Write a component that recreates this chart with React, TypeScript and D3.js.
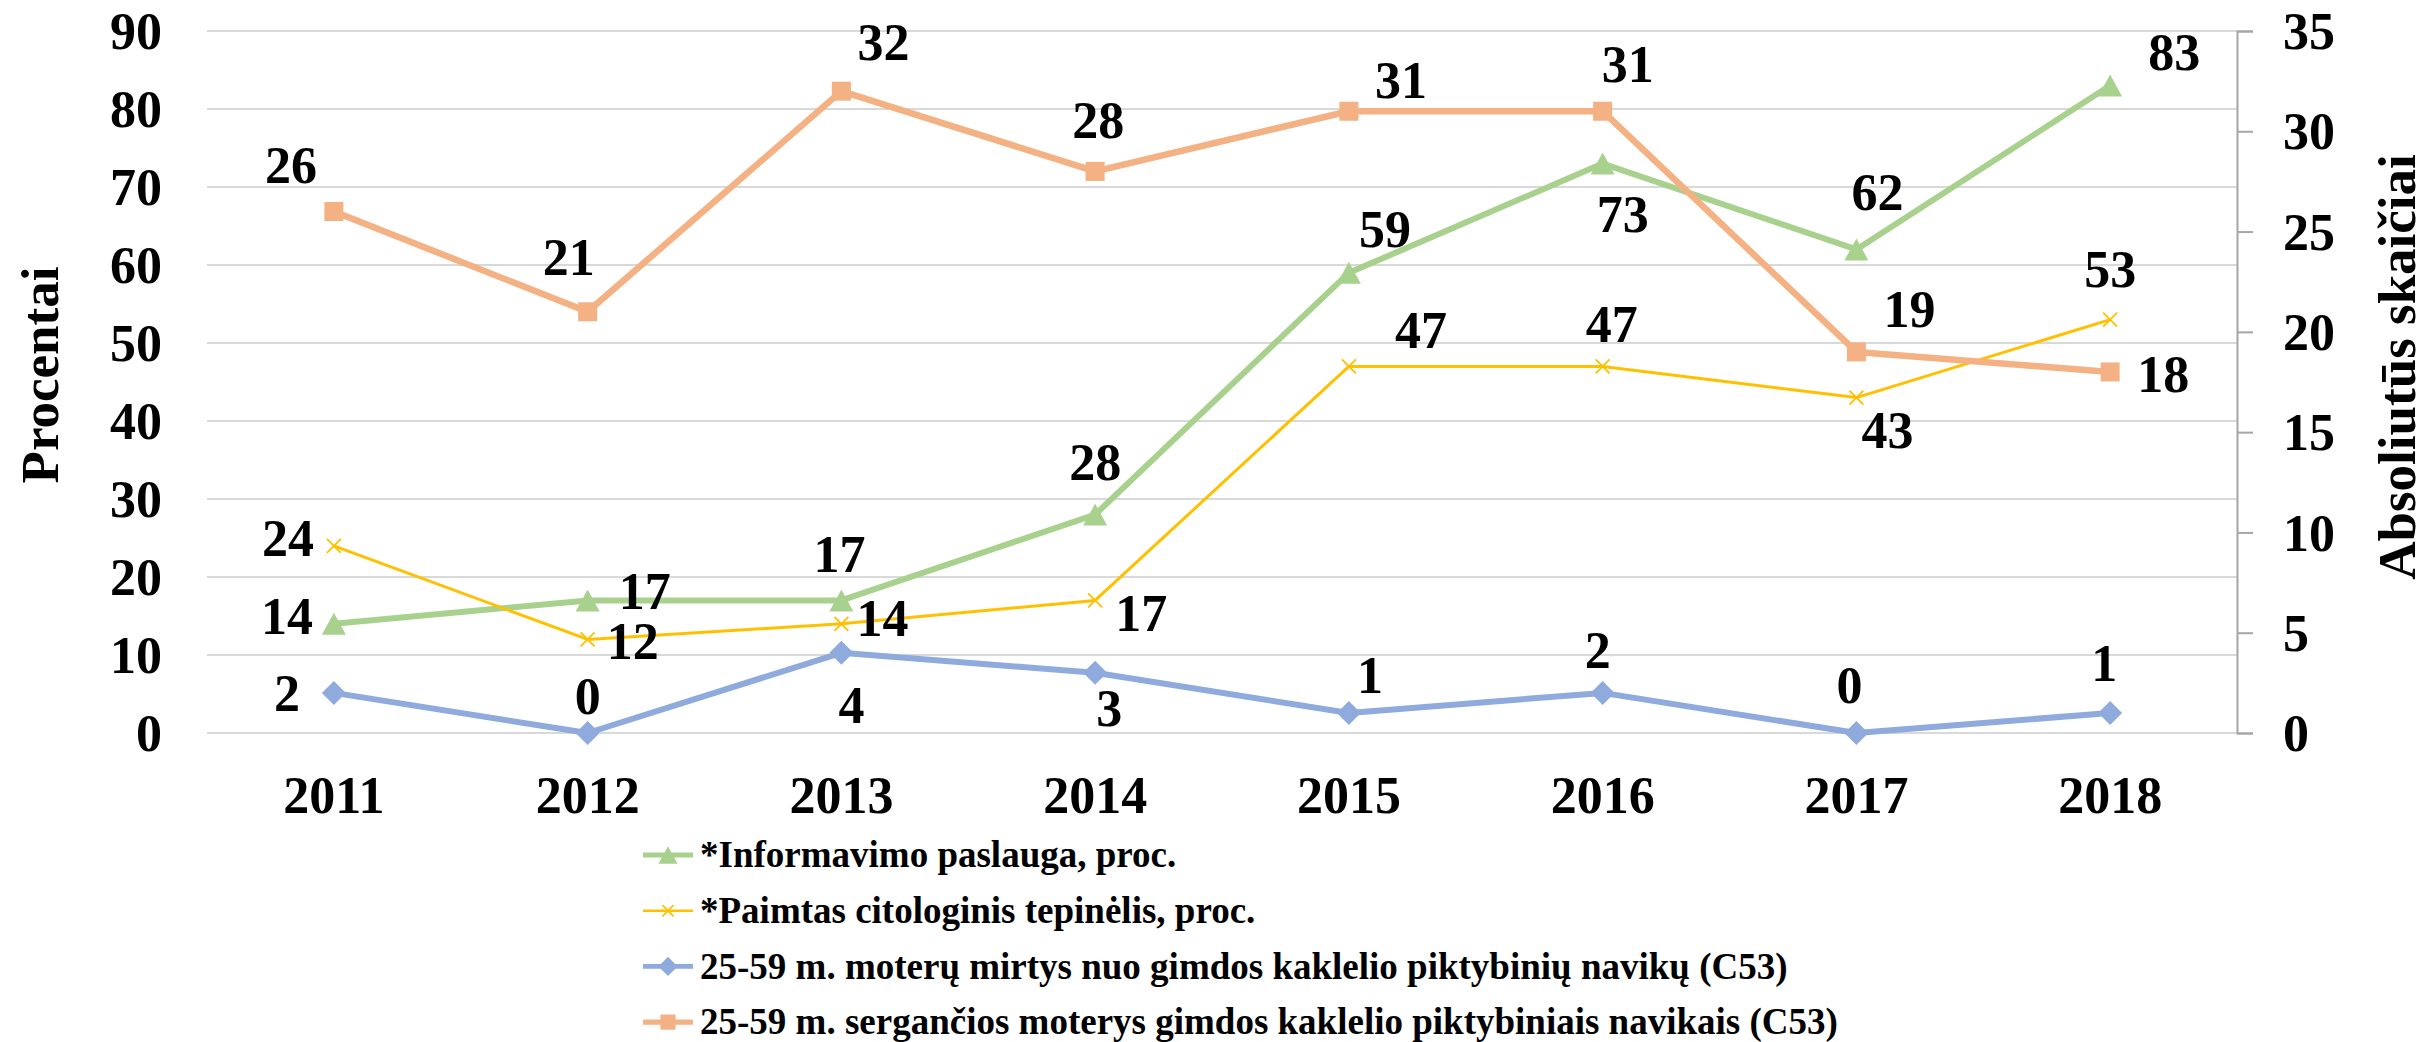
import { useEffect, useRef } from "react";
import * as d3 from "d3";

const WIDTH = 2435;
const HEIGHT = 1042;
const PLOT = { left: 207, right: 2237, top: 31, bottom: 733 };
const FONT = "'Liberation Serif', 'Times New Roman', Times, serif";

// data
const years = ["2011", "2012", "2013", "2014", "2015", "2016", "2017", "2018"];
const informavimas = [14, 17, 17, 28, 59, 73, 62, 83];
const tepinelis = [24, 12, 14, 17, 47, 47, 43, 53];
const mirtys = [2, 0, 4, 3, 1, 2, 0, 1];
const sergancios = [26, 21, 32, 28, 31, 31, 19, 18];
const leftTicks = [0, 10, 20, 30, 40, 50, 60, 70, 80, 90];
const rightTicks = [0, 5, 10, 15, 20, 25, 30, 35];

// where each value label sits relative to its point (px)
const OFFSETS_INFO = [[-47, -7], [57, -9], [-2, -46], [0, -52], [36, -43], [20, 51], [21, -57], [64, -33]];
const OFFSETS_TEP = [[-46, -7], [45, 2], [41, -5], [46, 13], [72, -36], [9, -42], [31, 33], [0, -50]];
const OFFSETS_MIRT = [[-47, 0], [0, -37], [10, 53], [14, 35], [21, -38], [-5, -43], [-7, -48], [-6, -50]];
const OFFSETS_SERG = [[-43, -46], [-19, -54], [42, -49], [3, -51], [52, -31], [25, -47], [53, -43], [53, 2]];

type Marker = "triangle" | "x" | "diamond" | "square";

const series = [
  { name: "*Informavimo paslauga, proc.", values: informavimas, axis: "left", color: "#A9D18E", width: 6, marker: "triangle" as Marker, offsets: OFFSETS_INFO },
  { name: "*Paimtas citologinis tepinėlis, proc.", values: tepinelis, axis: "left", color: "#FFC000", width: 3, marker: "x" as Marker, offsets: OFFSETS_TEP },
  { name: "25-59 m. moterų mirtys nuo gimdos kaklelio piktybinių navikų (C53)", values: mirtys, axis: "right", color: "#8FAADC", width: 6, marker: "diamond" as Marker, offsets: OFFSETS_MIRT },
  { name: "25-59 m. sergančios moterys gimdos kaklelio piktybiniais navikais (C53)", values: sergancios, axis: "right", color: "#F4B183", width: 6.5, marker: "square" as Marker, offsets: OFFSETS_SERG },
];

const markerShape = (type: Marker, cx: number, cy: number, color: string, k = 1, key?: string) => {
  if (type === "triangle") {
    const w = 12 * k, h = 11 * k;
    return <path key={key} d={`M${cx},${cy - h}L${cx + w},${cy + h}L${cx - w},${cy + h}Z`} fill={color} />;
  }
  if (type === "diamond") {
    const r = 12 * k;
    return <path key={key} d={`M${cx},${cy - r}L${cx + r},${cy}L${cx},${cy + r}L${cx - r},${cy}Z`} fill={color} />;
  }
  if (type === "square") {
    const s = 19 * k;
    return <rect key={key} x={cx - s / 2} y={cy - s / 2} width={s} height={s} fill={color} />;
  }
  const r = 7 * k;
  return (
    <path key={key} d={`M${cx - r},${cy - r}L${cx + r},${cy + r}M${cx - r},${cy + r}L${cx + r},${cy - r}`} stroke={color} strokeWidth={1.8} fill="none" />
  );
};

const App = () => {
  const rightAxisRef = useRef<SVGGElement | null>(null);

  const x = d3.scaleBand().domain(years).range([PLOT.left, PLOT.right]);
  const cx = (y: string) => (x(y) ?? 0) + x.bandwidth() / 2;
  const yLeft = d3.scaleLinear().domain([0, 90]).range([PLOT.bottom, PLOT.top]);
  const yRight = d3.scaleLinear().domain([0, 35]).range([PLOT.bottom, PLOT.top]);

  useEffect(() => {
    const g = d3.select(rightAxisRef.current);
    g.selectAll("*").remove();
    g.call(d3.axisRight(yRight).tickValues(rightTicks).tickSize(16).tickPadding(30));
    g.attr("font-family", FONT).attr("font-size", 52).attr("font-weight", "bold");
    g.select(".domain").attr("stroke", "#A6A6A6").attr("stroke-width", 2);
    g.selectAll(".tick line").attr("stroke", "#A6A6A6").attr("stroke-width", 2);
    g.selectAll(".tick text").attr("fill", "#000").attr("dy", "0.34em");
  }, []);

  return (
    <div>
      <style>{`body{margin:0;background:#fff}`}</style>
      <svg width={WIDTH} height={HEIGHT} style={{ display: "block", fontFamily: FONT }}>
        <rect width={WIDTH} height={HEIGHT} fill="#fff" />

        {/* gridlines */}
        <g>
          {leftTicks.map((t) => (
            <line key={t} x1={PLOT.left} x2={PLOT.right} y1={yLeft(t)} y2={yLeft(t)} stroke="#D9D9D9" strokeWidth={2.2} />
          ))}
        </g>

        {/* left tick labels */}
        <g fontSize={52} fontWeight="bold" textAnchor="end">
          {leftTicks.map((t) => (
            <text key={t} x={162} y={yLeft(t)} dy="0.34em">{t}</text>
          ))}
        </g>

        {/* x labels */}
        <g fontSize={52} fontWeight="bold" textAnchor="middle">
          {years.map((yr) => (
            <text key={yr} x={cx(yr)} y={813}>{yr}</text>
          ))}
        </g>

        <g ref={rightAxisRef} transform={`translate(${PLOT.right},0)`} />

        <text transform="translate(58,375) rotate(-90)" textAnchor="middle" fontSize={53} fontWeight="bold">Procentai</text>
        <text transform="translate(2415,367) rotate(-90)" textAnchor="middle" fontSize={53} fontWeight="bold">Absoliutūs skaičiai</text>

        {/* series */}
        {series.map((s) => {
          const ys = s.axis === "left" ? yLeft : yRight;
          const line = d3.line<number>().x((_, i) => cx(years[i])).y((v) => ys(v));
          return (
            <g key={s.name}>
              <path d={line(s.values) ?? ""} fill="none" stroke={s.color} strokeWidth={s.width} strokeLinejoin="round" />
              {s.values.map((v, i) => markerShape(s.marker, cx(years[i]), ys(v), s.color, 1, `m${i}`))}
            </g>
          );
        })}

        {/* value labels */}
        <g fontSize={52} fontWeight="bold" textAnchor="middle">
          {series.map((s) => {
            const ys = s.axis === "left" ? yLeft : yRight;
            return s.values.map((v, i) => (
              <text key={`${s.name}-${i}`} x={cx(years[i]) + s.offsets[i][0]} y={ys(v) + s.offsets[i][1]} dy="0.34em">
                {v}
              </text>
            ));
          })}
        </g>

        {/* legend */}
        <g fontSize={37} fontWeight="bold">
          {series.map((s, i) => {
            const ry = 855 + i * 55.7;
            return (
              <g key={s.name}>
                <line x1={643} x2={693} y1={ry} y2={ry} stroke={s.color} strokeWidth={s.width * 0.8} />
                {markerShape(s.marker, 668, ry, s.color, 0.8)}
                <text x={700} y={ry} dy="0.33em">{s.name}</text>
              </g>
            );
          })}
        </g>
      </svg>
    </div>
  );
};

export default App;
